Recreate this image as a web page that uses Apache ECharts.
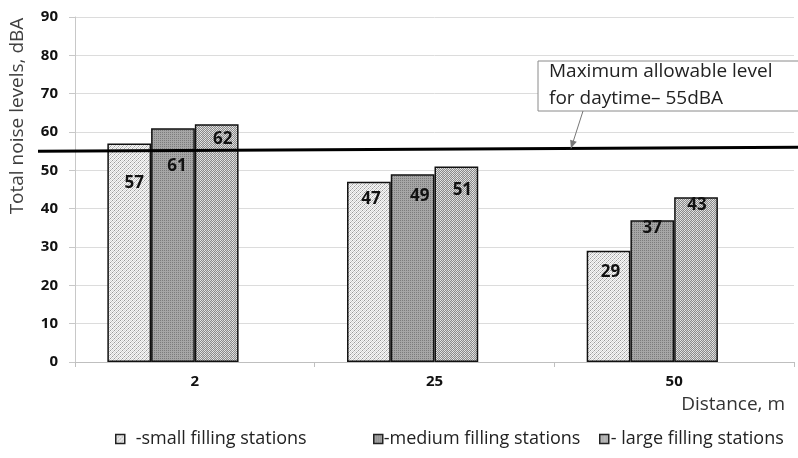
<!DOCTYPE html>
<html><head><meta charset="utf-8">
<script src="https://cdn.jsdelivr.net/npm/echarts@6/dist/echarts.min.js"></script>
<style>html,body{margin:0;padding:0;background:#fff}#c{width:798px;height:458px}</style>
</head><body><div id="c"></div>
<script>
// ---- data ----
const categories = ['2', '25', '50'];
const smallStations = [57, 47, 29];
const mediumStations = [61, 49, 37];
const largeStations = [62, 51, 43];
const seriesNames = ['-small filling stations', '-medium filling stations', '- large filling stations'];
const maxAllowable = 55;
const annotationLines = ['Maximum allowable level', 'for daytime– 55dBA'];
const yAxisTitle = 'Total noise levels, dBA';
const xAxisTitle = 'Distance, m';

// ---- styling ----
const FONT = '"Open Sans", "Noto Sans", sans-serif';
function makePattern(w, h, fn) {
  const c = document.createElement('canvas');
  c.width = w; c.height = h;
  const ctx = c.getContext('2d');
  for (let y = 0; y < h; y++) for (let x = 0; x < w; x++) {
    ctx.fillStyle = fn(x, y); ctx.fillRect(x, y, 1, 1);
  }
  return { image: c, repeat: 'repeat' };
}
const patSmall = makePattern(4, 4, (x, y) => {
  const d = (x + y) % 4;
  if (d === 0) return (x % 2 === 0) ? '#9a9a9a' : '#bdbdbd';
  if (d === 2) return '#dadada';
  return '#f8f8f8';
});
const patMedium = makePattern(2, 2, (x, y) => ((x === 0 && y === 0) ? '#7c7c7c' : '#a6a6a6'));
const patLarge = makePattern(4, 4, (x, y) => {
  const c = (x + y) % 2 === 0;
  return c ? ((x % 4 < 2) ? '#e6e6e6' : '#d4d4d4') : '#8a8a8a';
});

// label placement tweaks (pixel offsets from bar top, as in the source figure)
const labelShift = [
  [[5, 31], [2, 9], [2, 13]],
  [[4, 29], [7, 13], [0, -1]],
  [[6, 6], [6, 15], [1, -1]]
];

function barSeries(name, values, pattern, si) {
  return {
    name: name, type: 'bar',
    data: values.map((v, i) => ({ value: v, label: { offset: labelShift[si][i] } })),
    itemStyle: { color: pattern, borderColor: '#111', borderWidth: 1.5 },
    label: {
      show: true, position: 'insideTop', distance: 0,
      color: '#111', fontFamily: FONT, fontWeight: 'bold', fontSize: 17
    },
    barGap: '0%', barCategoryGap: '27%',
    z: 3
  };
}

const chart = echarts.init(document.getElementById('c'), null, { renderer: 'canvas' });

function legendFor(i, left, pad) {
  return {
    data: [seriesNames[i]], left: left, top: 425, icon: 'rect',
    itemWidth: 9, itemHeight: 9, itemGap: 0,
    itemStyle: { borderColor: '#222', borderWidth: 1.5 },
    textStyle: { fontFamily: FONT, fontSize: 18, color: '#222', padding: [0, 0, 0, pad] },
    selectedMode: false
  };
}

chart.setOption({
  animation: false,
  backgroundColor: '#fff',
  grid: { left: 75, right: 4, top: 17, bottom: 96, containLabel: false },
  legend: [legendFor(0, 110, 6), legendFor(1, 368, -4), legendFor(2, 594, -3)],
  xAxis: {
    type: 'category', data: categories,
    axisLine: { lineStyle: { color: '#bfbfbf', width: 1 } },
    axisTick: { show: true, length: 5, lineStyle: { color: '#bfbfbf' } },
    axisLabel: { color: '#111', fontFamily: FONT, fontWeight: 'bold', fontSize: 15, margin: 12 }
  },
  yAxis: {
    type: 'value', min: 0, max: 90, interval: 10,
    axisLine: { show: true, lineStyle: { color: '#c8c8c8' } },
    axisTick: { show: true, length: 6, lineStyle: { color: '#c8c8c8' } },
    splitLine: { lineStyle: { color: '#dcdcdc' } },
    axisLabel: { color: '#111', fontFamily: FONT, fontWeight: 'bold', fontSize: 15, margin: 17 }
  },
  series: [
    barSeries(seriesNames[0], smallStations, patSmall, 0),
    barSeries(seriesNames[1], mediumStations, patMedium, 1),
    barSeries(seriesNames[2], largeStations, patLarge, 2),
    { name: 'spacer', type: 'bar', data: categories.map(() => null), silent: true, barGap: '0%', barCategoryGap: '27%' }
  ]
});

// annotations computed from the scale
const yLine = chart.convertToPixel({ yAxisIndex: 0 }, maxAllowable);
const lineLeft = 38, lineRight = 798, tilt = 4;
const arrowTipX = 571;
const arrowTipY = yLine - tilt * (arrowTipX - lineLeft) / (lineRight - lineLeft);
const arrowFrom = [583, 111];
const ang = Math.atan2(arrowTipY - arrowFrom[1], arrowTipX - arrowFrom[0]);
const ah = 8, aw = 3.5;
const head = [
  [arrowTipX, arrowTipY],
  [arrowTipX - ah * Math.cos(ang) + aw * Math.sin(ang), arrowTipY - ah * Math.sin(ang) - aw * Math.cos(ang)],
  [arrowTipX - ah * Math.cos(ang) - aw * Math.sin(ang), arrowTipY - ah * Math.sin(ang) + aw * Math.cos(ang)]
];

chart.setOption({
  graphic: [
    { type: 'polyline', z: 10, shape: { points: [[lineLeft, yLine], [lineRight, yLine - tilt]] },
      style: { stroke: '#000', lineWidth: 3, fill: null } },
    { type: 'rect', z: 11, shape: { x: 538, y: 61, width: 262, height: 50 },
      style: { fill: '#fff', stroke: '#8a8a8a', lineWidth: 1 } },
    { type: 'text', z: 12, x: 549, y: 72,
      style: { text: annotationLines[0], fontFamily: FONT, fontSize: 19, fill: '#222', align: 'left', verticalAlign: 'middle' } },
    { type: 'text', z: 12, x: 549, y: 99,
      style: { text: annotationLines[1], fontFamily: FONT, fontSize: 19, fill: '#222', align: 'left', verticalAlign: 'middle' } },
    { type: 'line', z: 12, shape: { x1: arrowFrom[0], y1: arrowFrom[1], x2: arrowTipX, y2: arrowTipY },
      style: { stroke: '#777', lineWidth: 1 } },
    { type: 'polygon', z: 12, shape: { points: head }, style: { fill: '#777' } },
    { type: 'text', z: 12, x: 18, y: 116, rotation: Math.PI / 2,
      style: { text: yAxisTitle, fontFamily: FONT, fontSize: 19, fill: '#404040', align: 'center', verticalAlign: 'middle' } },
    { type: 'text', z: 12, x: 785, y: 405,
      style: { text: xAxisTitle, fontFamily: FONT, fontSize: 19, fill: '#333', align: 'right', verticalAlign: 'middle' } }
  ]
});
</script>
</body></html>
